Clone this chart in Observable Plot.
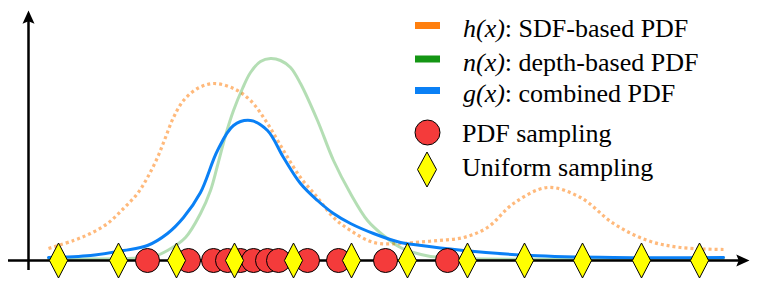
<!DOCTYPE html>
<html>
<head>
<meta charset="utf-8">
<script src="https://cdn.jsdelivr.net/npm/d3@7"></script>
<script src="https://cdn.jsdelivr.net/npm/@observablehq/plot@0.6"></script>
<style>
  html, body { margin: 0; padding: 0; background: #fff; }
  #chart svg { display: block; }
  #chart svg text.lgd, #chart svg text.lgd tspan {
    font-family: "Liberation Serif", "Times New Roman", Times, serif !important;
    font-size: 26px !important;
    fill: #000;
  }
</style>
</head>
<body>
<div id="chart"></div>
<script>
// ---- data (x: position along the ray, y: density) ----
const hX = [20, 45, 62, 79, 95, 109, 119, 129, 137, 145, 155, 169, 185, 205, 222, 239, 255, 272, 289, 305, 322, 345, 372, 385, 410, 435, 459, 485, 519, 552, 585, 619, 652, 695];
const hY = [12, 20, 27, 37, 52, 67, 83, 103, 123, 143, 160, 172, 177, 172, 160, 137, 110, 83, 63, 43, 30, 18, 17, 18, 20, 23, 33, 57, 73, 63, 37, 20, 13, 11];

const nX = [20, 100, 125, 139, 157, 172, 182, 189, 197, 205, 214, 222, 232, 242, 252, 262, 272, 289, 305, 322, 339, 355, 372, 385, 402, 432, 695];
const nY = [2, 2, 4, 10, 23, 47, 70, 95, 125, 150, 172, 188, 199, 202, 200, 193, 177, 140, 100, 67, 40, 25, 13, 8, 4, 2, 2];

const gX = [20, 62, 95, 119, 139, 155, 172, 189, 205, 222, 239, 255, 272, 289, 305, 322, 345, 372, 385, 435, 502, 585, 695];
const gY = [3, 5, 10, 15, 27, 43, 68, 110, 135, 140, 130, 103, 77, 60, 47, 37, 27, 18, 16, 10, 5, 3, 3];

const pdfSamples = [119, 160, 185, 199, 212, 225, 239, 250, 279, 310, 357, 419];
const uniformSamples = [30, 90, 148, 206, 265, 323, 379, 439, 496, 554, 613, 671];

const legendNames = ["h(x)", "n(x)", "g(x)"];
const legendDescs = [": SDF-based PDF", ": depth-based PDF", ": combined PDF"];
const sampleLabels = ["PDF sampling", "Uniform sampling"];

// ---- styles ----
const swatchColors = ["#ff7f0e", "#149614", "#0a80f5"];
const red = "#f43b3b";
const yellow = "#ffff00";

const curve = (xs, ys) => xs.map((x, i) => ({x, y: ys[i]}));

// custom symbols
const tallDiamond = {
  draw(ctx, size) {
    const r = Math.sqrt(size / Math.PI);
    ctx.moveTo(0, -r); ctx.lineTo(r * 0.52, 0); ctx.lineTo(0, r); ctx.lineTo(-r * 0.52, 0); ctx.closePath();
  }
};
const arrowHead = {
  draw(ctx, size) {
    const r = Math.sqrt(size / Math.PI);
    ctx.moveTo(0, 0); ctx.lineTo(0.5 * r, 1.1 * r); ctx.lineTo(0, 0.9 * r); ctx.lineTo(-0.5 * r, 1.1 * r); ctx.closePath();
  }
};

const plot = Plot.plot({
  width: 760,
  height: 281,
  margin: 0,
  style: {background: "#fff"},
  x: {domain: [0, 720], range: [28, 748], axis: null},
  y: {domain: [0, 200], range: [260, 60], axis: null},
  marks: [
    Plot.line(curve(hX, hY), {x: "x", y: "y", curve: "catmull-rom", stroke: "#ff7f0e", strokeOpacity: 0.55, strokeWidth: 3.2, strokeDasharray: "3,3", strokeLinecap: "butt"}),
    Plot.line(curve(nX, nY), {x: "x", y: "y", curve: "catmull-rom", stroke: "#1a9a1a", strokeOpacity: 0.33, strokeWidth: 3}),
    Plot.line(curve(gX, gY), {x: "x", y: "y", curve: "catmull-rom", stroke: "#0a80f5", strokeWidth: 3}),
    // axes
    Plot.ruleX([0], {y1: -10, y2: 240, stroke: "#000", strokeWidth: 2.5}),
    Plot.ruleY([0], {x1: -20, x2: 712, stroke: "#000", strokeWidth: 2.5}),
    Plot.dot([0], {x: 0, y: 250, symbol: arrowHead, r: 12, fill: "#000", stroke: "none"}),
    Plot.dot([0], {x: 721, y: 0, symbol: arrowHead, r: 12, rotate: 90, fill: "#000", stroke: "none"}),
    // samples
    Plot.dot(pdfSamples, {x: d => d, y: 0, r: 12, fill: red, stroke: "#000", strokeWidth: 1}),
    Plot.dot(uniformSamples, {x: d => d, y: 0, r: 17.5, symbol: tallDiamond, fill: yellow, stroke: "#000", strokeWidth: 1})
  ]
});

document.getElementById("chart").appendChild(plot);

// ---- legend (inside the svg, upper right) ----
const svg = d3.select(plot);
const lg = svg.append("g");

const rowBase = [37, 70.5, 102];
legendNames.forEach((name, i) => {
  lg.append("rect")
    .attr("x", 415).attr("y", rowBase[i] - 15).attr("width", 25).attr("height", 7)
    .attr("fill", swatchColors[i]);
  const t = lg.append("text").attr("class", "lgd").attr("x", 463).attr("y", rowBase[i]).attr("text-anchor", "start");
  t.append("tspan").attr("font-style", "italic").style("font-style", "italic").text(name);
  t.append("tspan").text(legendDescs[i]);
});

lg.append("circle").attr("cx", 427.5).attr("cy", 132.5).attr("r", 12.5)
  .attr("fill", red).attr("stroke", "#000").attr("stroke-width", 1);
lg.append("text").attr("class", "lgd").attr("x", 462).attr("y", 142).attr("text-anchor", "start").text(sampleLabels[0]);

lg.append("path")
  .attr("d", "M427,152 L436.5,169.5 L427,187 L417.5,169.5 Z")
  .attr("fill", yellow).attr("stroke", "#000").attr("stroke-width", 1);
lg.append("text").attr("class", "lgd").attr("x", 462).attr("y", 176).attr("text-anchor", "start").text(sampleLabels[1]);
</script>
</body>
</html>
